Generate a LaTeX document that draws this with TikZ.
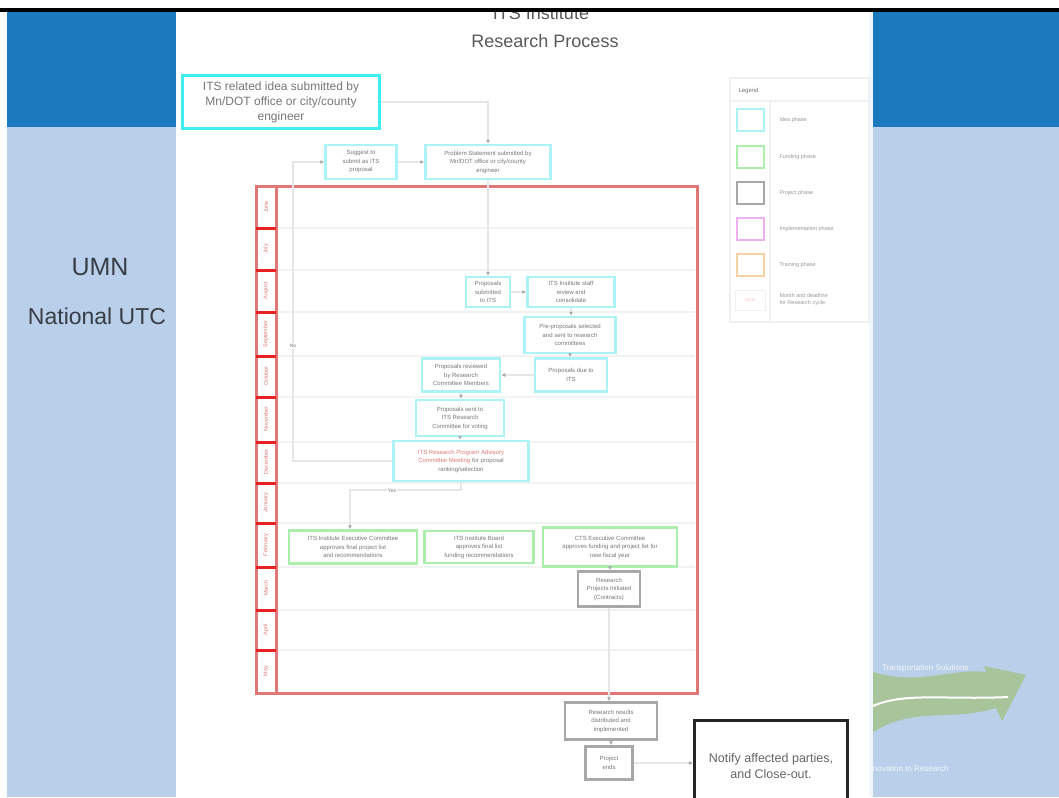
\documentclass[tikz,border=0pt]{standalone}
\usepackage{fontspec}
\setmainfont{Liberation Sans}
\usetikzlibrary{arrows.meta}

\definecolor{darkband}{HTML}{1B79BE}
\definecolor{paleband}{HTML}{BAD0EA}
\definecolor{brightcyan}{HTML}{3EEEF0}
\definecolor{ideacyan}{HTML}{ADF2F6}
\definecolor{fundgreen}{HTML}{ADEEAD}
\definecolor{projgray}{HTML}{A8A8A8}
\definecolor{implpink}{HTML}{EEB0EE}
\definecolor{trainorange}{HTML}{F5D2A5}
\definecolor{monthred}{HTML}{E07878}
\definecolor{laneline}{HTML}{E82222}
\definecolor{flowgray}{HTML}{E6E6E6}
\definecolor{boxtext}{HTML}{777777}
\definecolor{arrowgreen}{HTML}{A8C49A}

\tikzstyle{phase}=[line width=2.5pt, fill=white, text=boxtext, align=center,
  font=\fontsize{6}{8.5}\selectfont, inner sep=1pt]
\tikzstyle{idea}=[phase, draw=ideacyan]
\tikzstyle{fund}=[phase, draw=fundgreen]
\tikzstyle{proj}=[phase, draw=projgray]
\tikzstyle{flow}=[flowgray, line width=2pt, -{Latex[length=4pt, width=4pt, color=black!35]}]
\tikzstyle{month}=[rotate=90, text=monthred, font=\fontsize{5.5}{6}\selectfont]
\tikzstyle{swatch}=[line width=2pt, fill=white, minimum width=27pt, minimum height=22pt]
\tikzstyle{legendtext}=[anchor=west, text=black!40, align=left, font=\fontsize{5.5}{7}\selectfont]

\begin{document}
\begin{tikzpicture}[x=1pt, y=-1pt]
  \useasboundingbox (0,0) rectangle (1059,797);

  % slide background
  \fill[white] (0,0) rectangle (1059,797);
  \fill[paleband] (7,127) rectangle (1059,797);
  \fill[darkband] (7,12) rectangle (1059,127);
  \node[text=white!85!paleband, font=\fontsize{8}{9}\selectfont, anchor=east] (slogan) at (972,668) {Transportation Solutions};
  \node[text=white!85!paleband, font=\fontsize{8}{9}\selectfont, anchor=east] (tagline) at (952,769) {Innovation to Research};
  \fill[arrowgreen] (873,672) .. controls (920,686) and (950,668) .. (986,672) -- (984,666)
    -- (1026,675) -- (1002,721) -- (996,708) .. controls (950,722) and (915,706) .. (873,732) -- cycle;
  \draw[white, line width=2pt] (873,706) .. controls (905,692) and (945,700) .. (1008,697);
  \fill[white!80!paleband] (869,12) rectangle (873,797);
  \fill[white] (176,12) rectangle (869,797);
  \node[text=black!70!paleband, font=\fontsize{25}{28}\selectfont] (umn) at (100,267) {UMN};
  \node[text=black!70!paleband, font=\fontsize{23}{26}\selectfont] (utc) at (97,316) {National UTC};

  % heading
  \node[text=black!65, font=\fontsize{18}{20}\selectfont] (heading) at (541,13) {ITS Institute};
  \node[text=black!65, font=\fontsize{18}{20}\selectfont] (subheading) at (545,41) {Research Process};
  \fill[white] (0,0) rectangle (1059,8);
  \fill[black] (0,8) rectangle (1059,12);

  % month lanes
  \draw[monthred, line width=3pt] (256,186) rectangle (697,693);
  \draw[monthred, line width=3pt] (276,186) -- (276,693);
  \foreach \ybar in {228,270,312,356,397,442,483,523,567,610,650} {
    \draw[black!5, line width=1.5pt] (278,\ybar) -- (695,\ybar);
    \draw[laneline, line width=3pt] (256,\ybar) -- (276,\ybar);
  }
  \foreach \ymid/\mname in {207/June,249/July,291/August,334/September,376/October,
      419/November,462/December,503/January,545/February,588/March,630/April,671/May} {
    \node[month] (lane-\mname) at (266,\ymid) {\mname};
  }

  % idea phase
  \node[phase, draw=brightcyan, line width=3pt, minimum width=197pt, minimum height=52pt,
    font=\fontsize{12}{15}\selectfont] (submitted) at (281,102)
    {ITS related idea submitted by\\ Mn/DOT office or city/county\\ engineer};
  \node[idea, minimum width=71pt, minimum height=34pt] (suggest) at (361,162) {Suggest to\\ submit as ITS\\ proposal};
  \node[idea, minimum width=125pt, minimum height=34pt] (statement) at (488,162) {Problem Statement submitted by\\ Mn/DOT office or city/county\\ engineer};
  \node[idea, minimum width=44pt, minimum height=30pt] (received) at (488,292) {Proposals\\ submitted\\ to ITS};
  \node[idea, minimum width=87pt, minimum height=30pt] (review) at (571,292) {ITS Institute staff\\ review and\\ consolidate};
  \node[idea, minimum width=91pt, minimum height=36pt] (select) at (570,335) {Pre-proposals selected\\ and sent to research\\ committees};
  \node[idea, minimum width=72pt, minimum height=33pt] (due) at (571,375) {Proposals due to\\ ITS};
  \node[idea, minimum width=78pt, minimum height=33pt] (reviewed) at (461,375) {Proposals reviewed\\ by Research\\ Committee Members};
  \node[idea, minimum width=88pt, minimum height=36pt] (voting) at (460,418) {Proposals sent to\\ ITS Research\\ Committee for voting};
  \node[idea, minimum width=135pt, minimum height=40pt] (meeting) at (461,461)
    {\textcolor{monthred}{ITS Research Program Advisory}\\ \textcolor{monthred}{Committee Meeting} for proposal\\ ranking/selection};

  % funding phase
  \node[fund, minimum width=128pt, minimum height=33pt] (exec) at (353,547) {ITS Institute Executive Committee\\ approves final project list\\ and recommendations};
  \node[fund, minimum width=109pt, minimum height=32pt] (board) at (479,547) {ITS Institute Board\\ approves final list\\ funding recommendations};
  \node[fund, minimum width=134pt, minimum height=39pt] (cts) at (610,547) {CTS Executive Committee\\ approves funding and project list for\\ new fiscal year};

  % project phase
  \node[proj, minimum width=62pt, minimum height=35pt] (initiated) at (609,589) {Research\\ Projects Initiated\\ (Contracts)};
  \node[proj, minimum width=92pt, minimum height=37pt] (results) at (611,721) {Research results\\ distributed and\\ implemented};
  \node[proj, minimum width=47pt, minimum height=33pt] (ends) at (609,763) {Project\\ ends};
  \node[draw=black!85, line width=3pt, fill=white, text=black!60, align=center,
    minimum width=153pt, minimum height=92pt, font=\fontsize{12.5}{16}\selectfont] (closeout) at (771,766)
    {Notify affected parties,\\ and Close-out.};

  % connectors
  \draw[flow] (submitted.east) -| (statement.north);
  \draw[flow] (suggest.east) -- (statement.west);
  \draw[flow] (statement.south) -- (received.north);
  \draw[flow] (received.east) -- (review.west);
  \draw[flow] (review.south) -- (review.south |- select.north);
  \draw[flow] (select.south) -- (select.south |- due.north);
  \draw[flow] (due.west) -- (reviewed.east);
  \draw[flow] (reviewed.south) -- (reviewed.south |- voting.north);
  \draw[flow] (voting.south) -- (voting.south |- meeting.north);
  \coordinate (noturn) at (293,461);
  \draw[flow] (meeting.west) -- (noturn) |- (suggest.west);
  \node[fill=white, text=boxtext, font=\fontsize{5}{6}\selectfont, inner sep=1pt] (nolabel) at (293,346) {No};
  \coordinate (yesturn) at (350,490);
  \draw[flow] (meeting.south) |- (yesturn) -- (yesturn |- exec.north);
  \node[fill=white, text=boxtext, font=\fontsize{5}{6}\selectfont, inner sep=1pt] (yeslabel) at (392,491) {Yes};
  \draw[flow] (cts.south) -- (cts.south |- initiated.north);
  \draw[flow] (initiated.south) -- (initiated.south |- results.north);
  \draw[flow] (results.south) -- (results.south |- ends.north);
  \draw[flow] (ends.east) -- (closeout.west |- ends.east);

  % legend
  \draw[black!6, line width=1.5pt] (730,78) rectangle (869,322);
  \draw[black!6, line width=1.5pt] (730,101) -- (869,101);
  \draw[black!6, line width=1.5pt] (770,101) -- (770,322);
  \node[anchor=west, text=black!55, font=\fontsize{6}{7}\selectfont] (legendhead) at (735,91) {Legend};
  \node[swatch, draw=ideacyan] (key-idea) at (750,120) {};
  \node[swatch, draw=fundgreen] (key-fund) at (750,157) {};
  \node[swatch, draw=projgray] (key-proj) at (750,193) {};
  \node[swatch, draw=implpink] (key-impl) at (750,229) {};
  \node[swatch, draw=trainorange] (key-train) at (750,265) {};
  \node[draw=black!6, line width=1pt, fill=white, minimum width=30pt, minimum height=20pt,
    text=monthred!50, font=\fontsize{4}{5}\selectfont] (key-month) at (750,300) {MON};
  \node[legendtext] (txt-idea) at (776,120) {Idea phase};
  \node[legendtext] (txt-fund) at (776,157) {Funding phase};
  \node[legendtext] (txt-proj) at (776,193) {Project phase};
  \node[legendtext] (txt-impl) at (776,229) {Implementation phase};
  \node[legendtext] (txt-train) at (776,265) {Training phase};
  \node[legendtext] (txt-month) at (776,300) {Month and deadline\\ for Research cycle};
\end{tikzpicture}
\end{document}
